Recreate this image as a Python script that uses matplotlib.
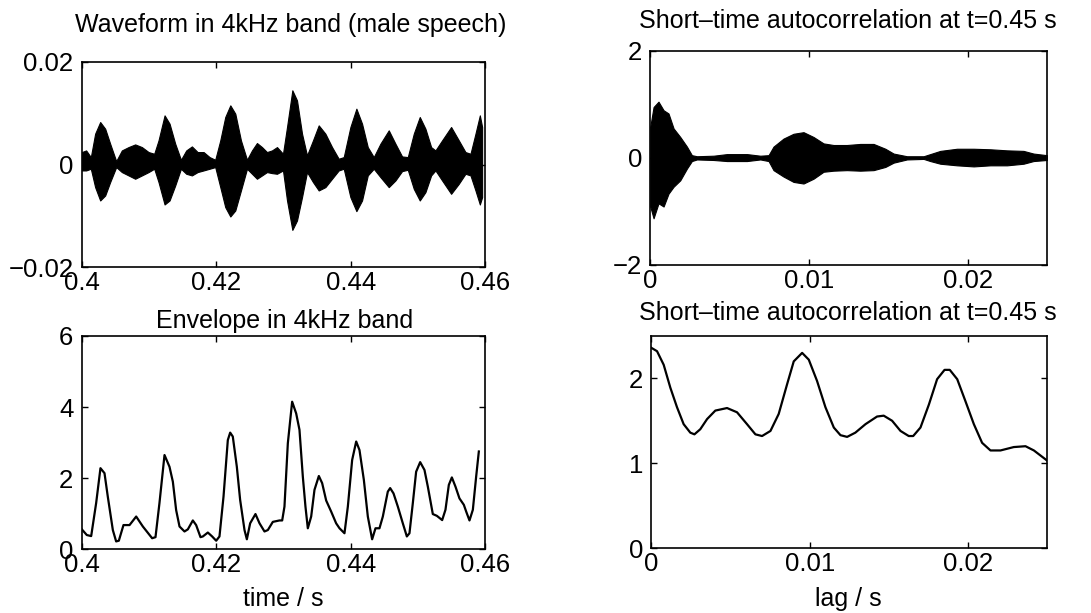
import numpy as np
import matplotlib
matplotlib.use('Agg')
import matplotlib.pyplot as plt

plt.rcParams['font.family'] = ['Liberation Sans', 'DejaVu Sans']
plt.rcParams['font.size'] = 18

# Верхний левый график: огибающая формы волны (верх/низ)
wave_t = [0.40000, 0.40064, 0.40134, 0.40198, 0.40273, 0.40347, 0.40421, 0.40511,
          0.40595, 0.40694, 0.40793, 0.40893, 0.40992, 0.41076, 0.41140, 0.41230,
          0.41304, 0.41388, 0.41473, 0.41552, 0.41636, 0.41721, 0.41810, 0.41899,
          0.41983, 0.42058, 0.42132, 0.42207, 0.42281, 0.42365, 0.42455, 0.42529,
          0.42603, 0.42678, 0.42752, 0.42826, 0.42901, 0.42990, 0.43050, 0.43129,
          0.43198, 0.43273, 0.43347, 0.43436, 0.43521, 0.43620, 0.43719, 0.43818,
          0.43893, 0.43992, 0.44081, 0.44165, 0.44250, 0.44339, 0.44438, 0.44562,
          0.44661, 0.44760, 0.44845, 0.44934, 0.45023, 0.45107, 0.45192, 0.45256,
          0.45355, 0.45489, 0.45603, 0.45702, 0.45777, 0.45851, 0.45916, 0.45950]
wave_hi = [2.44, 2.76, 1.46, 6.02, 8.29, 6.99, 4.07, 0.68,
           2.76, 3.41, 3.93, 3.41, 2.44, 2.11, 4.72, 9.59,
           7.97, 4.07, 0.94, 2.76, 3.54, 2.44, 2.44, 1.46,
           0.94, 4.72, 9.27, 11.54, 9.92, 4.72, 0.94, 2.76,
           4.20, 3.41, 2.44, 2.76, 3.41, 2.11, 7.32, 14.47,
           12.52, 6.02, 1.79, 4.72, 7.64, 6.02, 3.41, 1.14,
           1.46, 7.32, 10.89, 7.97, 3.41, 1.46, 4.07, 6.67,
           4.07, 1.59, 1.46, 6.02, 9.27, 6.99, 3.41, 2.76,
           4.72, 7.32, 4.72, 2.44, 2.11, 6.02, 9.59, 7.32]
wave_lo = [-1.14, -1.14, -0.81, -4.39, -6.99, -6.02, -3.41, -0.49,
           -1.46, -2.11, -2.76, -2.11, -1.46, -0.81, -3.41, -7.77,
           -6.99, -4.07, -0.81, -1.79, -2.11, -1.46, -1.14, -0.81,
           -0.49, -4.39, -8.29, -10.11, -8.94, -5.04, -0.81, -1.79,
           -2.76, -2.11, -1.46, -1.66, -1.79, -1.14, -6.99, -12.72,
           -10.89, -6.34, -1.46, -3.41, -5.04, -4.39, -2.76, -1.14,
           -0.81, -6.34, -9.07, -6.99, -2.11, -0.81, -2.44, -4.39,
           -3.09, -1.27, -1.01, -4.72, -6.99, -5.37, -2.11, -1.14,
           -3.09, -5.69, -3.74, -1.79, -2.11, -5.04, -7.77, -6.34]

# Нижний левый график: огибающая
env_t = [0.40000, 0.40074, 0.40139, 0.40213, 0.40277, 0.40337, 0.40386, 0.40461,
         0.40510, 0.40550, 0.40619, 0.40709, 0.40808, 0.40907, 0.41045, 0.41095,
         0.41154, 0.41229, 0.41303, 0.41353, 0.41402, 0.41452, 0.41526, 0.41576,
         0.41650, 0.41699, 0.41764, 0.41799, 0.41873, 0.41937, 0.41997, 0.42046,
         0.42106, 0.42170, 0.42205, 0.42244, 0.42304, 0.42353, 0.42418, 0.42453,
         0.42502, 0.42581, 0.42641, 0.42715, 0.42765, 0.42839, 0.42938, 0.42978,
         0.43012, 0.43062, 0.43126, 0.43186, 0.43235, 0.43285, 0.43324, 0.43359,
         0.43409, 0.43458, 0.43523, 0.43572, 0.43632, 0.43706, 0.43780, 0.43830,
         0.43904, 0.43954, 0.44018, 0.44078, 0.44127, 0.44192, 0.44251, 0.44315,
         0.44365, 0.44424, 0.44474, 0.44548, 0.44583, 0.44633, 0.44697, 0.44771,
         0.44831, 0.44870, 0.44920, 0.44969, 0.45029, 0.45093, 0.45143, 0.45217,
         0.45277, 0.45356, 0.45405, 0.45455, 0.45500, 0.45554, 0.45613, 0.45678,
         0.45713, 0.45762, 0.45812, 0.45861, 0.45901]
env_v = [0.56, 0.40, 0.37, 1.30, 2.28, 2.14, 1.48, 0.54,
         0.22, 0.24, 0.68, 0.68, 0.92, 0.64, 0.31, 0.34,
         1.30, 2.65, 2.32, 1.90, 1.10, 0.64, 0.50, 0.56,
         0.81, 0.68, 0.34, 0.36, 0.47, 0.36, 0.24, 0.36,
         1.48, 3.07, 3.28, 3.17, 2.32, 1.39, 0.54, 0.28,
         0.73, 0.99, 0.73, 0.50, 0.54, 0.77, 0.81, 0.81,
         1.20, 2.98, 4.15, 3.82, 3.36, 2.04, 1.20, 0.59,
         0.92, 1.67, 2.06, 1.86, 1.37, 1.06, 0.73, 0.59,
         0.45, 1.20, 2.51, 3.03, 2.79, 1.95, 0.92, 0.28,
         0.59, 0.59, 0.92, 1.62, 1.72, 1.57, 1.20, 0.73,
         0.36, 0.45, 1.30, 2.18, 2.45, 2.23, 1.76, 0.99,
         0.94, 0.82, 1.11, 1.81, 2.02, 1.76, 1.43, 1.25,
         1.06, 0.81, 1.11, 2.04, 2.75]

# Верхний правый график: огибающая автокорреляции
ac_lag = [0, 0.00021, 0.00052, 0.00084, 0.00115, 0.00147, 0.00189, 0.00231,
          0.00262, 0.00294, 0.00399, 0.00483, 0.00609, 0.00693, 0.00745, 0.00776,
          0.00839, 0.00902, 0.00965, 0.01028, 0.01091, 0.01154, 0.01238, 0.01322,
          0.01406, 0.01480, 0.01532, 0.01616, 0.01721, 0.01763, 0.01826, 0.01931,
          0.02036, 0.02141, 0.02246, 0.02350, 0.02413, 0.02497]
ac_hi = [0.58, 0.95, 1.05, 0.89, 0.83, 0.55, 0.39, 0.21,
         0.05, 0.03, 0.04, 0.07, 0.07, 0.04, 0.05, 0.21,
         0.36, 0.45, 0.48, 0.39, 0.27, 0.24, 0.24, 0.26,
         0.26, 0.17, 0.08, 0.03, 0.03, 0.07, 0.13, 0.17,
         0.17, 0.16, 0.14, 0.13, 0.08, 0.05]
ac_lo = [-0.91, -1.13, -0.85, -0.91, -0.67, -0.54, -0.42, -0.20,
         -0.06, -0.03, -0.04, -0.06, -0.06, -0.03, -0.06, -0.23,
         -0.35, -0.45, -0.48, -0.39, -0.26, -0.24, -0.23, -0.24,
         -0.23, -0.17, -0.09, -0.03, -0.02, -0.06, -0.11, -0.14,
         -0.16, -0.14, -0.14, -0.11, -0.06, -0.04]

# Нижний правый график: автокорреляция огибающей
sac_lag = [0, 0.00036, 0.00078, 0.00120, 0.00162, 0.00204, 0.00246, 0.00272,
           0.00309, 0.00352, 0.00404, 0.00478, 0.00541, 0.00604, 0.00657, 0.00699,
           0.00752, 0.00804, 0.00857, 0.00899, 0.00952, 0.00994, 0.01046, 0.01099,
           0.01152, 0.01194, 0.01236, 0.01288, 0.01352, 0.01425, 0.01467, 0.01520,
           0.01573, 0.01625, 0.01653, 0.01699, 0.01752, 0.01804, 0.01851, 0.01884,
           0.01931, 0.01983, 0.02036, 0.02088, 0.02141, 0.02204, 0.02288, 0.02362,
           0.02415, 0.02457, 0.02499]
sac_v = [2.36, 2.32, 2.16, 1.89, 1.66, 1.46, 1.36, 1.34,
         1.40, 1.52, 1.62, 1.65, 1.60, 1.46, 1.34, 1.32,
         1.38, 1.58, 1.93, 2.20, 2.30, 2.22, 1.97, 1.66,
         1.42, 1.33, 1.31, 1.36, 1.46, 1.55, 1.56, 1.50,
         1.38, 1.32, 1.32, 1.42, 1.69, 1.99, 2.10, 2.10,
         1.99, 1.73, 1.46, 1.24, 1.15, 1.15, 1.19, 1.20,
         1.15, 1.09, 1.03]

fig = plt.figure(figsize=(10.91, 6.13), dpi=100)

ax1 = fig.add_axes([0.075, 0.564, 0.370, 0.335])
ax2 = fig.add_axes([0.596, 0.568, 0.364, 0.349])
ax3 = fig.add_axes([0.075, 0.104, 0.370, 0.348])
ax4 = fig.add_axes([0.597, 0.106, 0.363, 0.346])

ax1.fill_between(wave_t, np.array(wave_lo) / 1000, np.array(wave_hi) / 1000,
                 color='black', lw=0.8)
ax1.set_xlim(0.4, 0.46)
ax1.set_ylim(-0.02, 0.02)
ax1.set_xticks([0.4, 0.42, 0.44, 0.46])
ax1.set_xticklabels(['0.4', '0.42', '0.44', '0.46'])
ax1.set_yticks([-0.02, 0, 0.02])
ax1.set_yticklabels(['\u22120.02', '0', '0.02'])

ax2.fill_between(ac_lag, ac_lo, ac_hi, color='black', lw=0.8)
ax2.set_xlim(0, 0.025)
ax2.set_ylim(-2, 2)
ax2.set_xticks([0, 0.01, 0.02])
ax2.set_xticklabels(['0', '0.01', '0.02'])
ax2.set_yticks([-2, 0, 2])
ax2.set_yticklabels(['\u22122', '0', '2'])

ax3.plot(env_t, env_v, color='black', lw=1.6)
ax3.set_xlim(0.4, 0.46)
ax3.set_ylim(0, 6)
ax3.set_xticks([0.4, 0.42, 0.44, 0.46])
ax3.set_xticklabels(['0.4', '0.42', '0.44', '0.46'])
ax3.set_yticks([0, 2, 4, 6])

ax4.plot(sac_lag, sac_v, color='black', lw=1.6)
ax4.set_xlim(0, 0.025)
ax4.set_ylim(0, 2.5)
ax4.set_xticks([0, 0.01, 0.02])
ax4.set_xticklabels(['0', '0.01', '0.02'])
ax4.set_yticks([0, 1, 2])

for ax in [ax1, ax2, ax3, ax4]:
    ax.tick_params(direction='in', length=4, width=1, top=True, right=True,
                   labelsize=18.5)
    ax.tick_params(axis='x', pad=3)
    ax.tick_params(axis='y', pad=6)
    for s in ax.spines.values():
        s.set_linewidth(1.2)

fig.text(0.266, 0.948, 'Waveform in 4kHz band (male speech)', ha='center', va='baseline', fontsize=18)
fig.text(0.777, 0.954, 'Short\u2013time autocorrelation at t=0.45 s', ha='center', va='baseline', fontsize=18)
fig.text(0.261, 0.465, 'Envelope in 4kHz band', ha='center', va='baseline', fontsize=18)
fig.text(0.777, 0.478, 'Short\u2013time autocorrelation at t=0.45 s', ha='center', va='baseline', fontsize=18)
fig.text(0.260, 0.012, 'time / s', ha='center', va='baseline', fontsize=18)
fig.text(0.778, 0.012, 'lag / s', ha='center', va='baseline', fontsize=18)

fig.savefig('out.png', dpi=100)
